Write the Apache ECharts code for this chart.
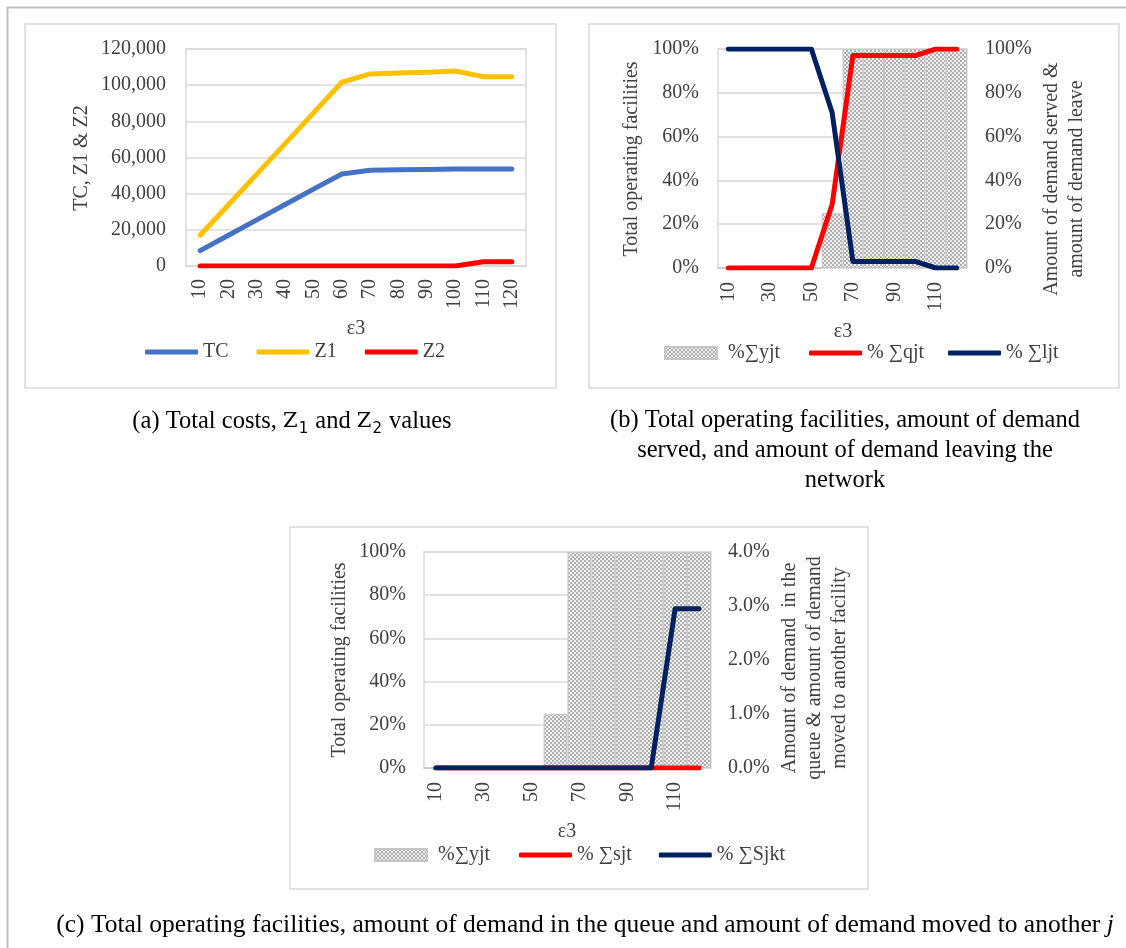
<!DOCTYPE html>
<html>
<head>
<meta charset="utf-8">
<title>ε3 sensitivity</title>
<script src="https://cdn.jsdelivr.net/npm/echarts@6.0.0/dist/echarts.min.js"></script>
<style>
  html, body { margin: 0; padding: 0; background: #ffffff; }
  #chart { width: 1126px; height: 948px; }
</style>
</head>
<body>
<div id="chart"></div>
<script>
// ε3 levels on the category axis
const eps = ['10', '20', '30', '40', '50', '60', '70', '80', '90', '100', '110', '120'];

// (a) total cost and objective values
const tc = [8500, 17000, 25500, 34000, 42500, 50900, 52900, 53200, 53400, 53600, 53700, 53700];
const z1 = [17000, 33900, 50800, 67700, 84700, 101600, 106200, 106700, 107200, 107800, 104700, 104700];
const z2 = [0, 0, 0, 0, 0, 0, 0, 0, 0, 0, 2400, 2400];

// (b) share of operating facilities, demand served and demand leaving
const yjt = [0, 0, 0, 0, 0, 0.25, 1, 1, 1, 1, 1, 1];
const qjt = [0, 0, 0, 0, 0, 0.29, 0.97, 0.97, 0.97, 0.97, 1, 1];
const ljt = [1, 1, 1, 1, 1, 0.71, 0.03, 0.03, 0.03, 0.03, 0, 0];

// (c) demand in the queue and demand moved to another facility
const sjt = [0, 0, 0, 0, 0, 0, 0, 0, 0, 0, 0, 0];
const sjkt = [0, 0, 0, 0, 0, 0, 0, 0, 0, 0, 0.0295, 0.0295];

const FONT = 'Liberation Serif';
const TXT = '#404040';
const GRIDC = '#d9d9d9';

// small checker tile used as the fill of the facility bars
function checkerTile() {
  const c = document.createElement('canvas');
  c.width = 4; c.height = 4;
  const g = c.getContext('2d');
  g.fillStyle = '#efefef';
  g.fillRect(0, 0, 4, 4);
  g.fillStyle = '#b0b0b0';
  g.fillRect(0, 0, 2, 2);
  g.fillRect(2, 2, 2, 2);
  return c;
}
const checker = { image: checkerTile(), repeat: 'repeat' };

const pct0 = v => Math.round(v * 100) + '%';
const pct1 = v => (v * 100).toFixed(1) + '%';

function catAxis(gridIndex, interval, margin) {
  return {
    type: 'category', gridIndex: gridIndex, data: eps, boundaryGap: true,
    axisLine: { lineStyle: { color: GRIDC, width: 1.5 } },
    axisTick: { show: false },
    axisLabel: { rotate: 90, interval: interval, margin: margin, fontFamily: FONT, fontSize: 20, color: TXT },
    splitLine: { show: false }
  };
}
function valAxis(gridIndex, pos, max, interval, fmt, margin, split) {
  return {
    type: 'value', gridIndex: gridIndex, position: pos, min: 0, max: max, interval: interval,
    axisLine: { show: false }, axisTick: { show: false },
    axisLabel: { formatter: fmt, margin: margin, fontFamily: FONT, fontSize: 20, color: TXT },
    splitLine: { show: split, lineStyle: { color: GRIDC, width: 1.5 } }
  };
}
function lineSeries(name, data, color, xi, yi) {
  return {
    type: 'line', name: name, data: data, xAxisIndex: xi, yAxisIndex: yi,
    symbol: 'none', showSymbol: false, color: color, silent: true,
    lineStyle: { width: 5, color: color, cap: 'round', join: 'round' }
  };
}
function barSeries(name, data, xi, yi) {
  return {
    type: 'bar', name: name, data: data, xAxisIndex: xi, yAxisIndex: yi,
    barCategoryGap: '0%', silent: true,
    itemStyle: { color: checker, borderColor: '#c6c6c6', borderWidth: 1 }
  };
}
// legend for line series: a thick rounded stroke, no marker
function lineLegend(left, top, names, gap) {
  return {
    left: left, top: top, orient: 'horizontal', itemWidth: 53, itemHeight: 5, itemGap: gap,
    icon: 'roundRect', data: names, selectedMode: false,
    textStyle: { fontFamily: FONT, fontSize: 20, color: TXT }
  };
}
// legend for the patterned bar series
function barLegend(left, top, names) {
  return {
    left: left, top: top, orient: 'horizontal', itemWidth: 52, itemHeight: 12,
    icon: 'rect', data: names, selectedMode: false,
    textStyle: { fontFamily: FONT, fontSize: 20, color: TXT, padding: [0, 0, 0, 6] }
  };
}
function vText(x, y, text, size) {
  return {
    type: 'text', x: x, y: y, rotation: Math.PI / 2, silent: true,
    style: {
      text: text, x: 0, y: 0, fontFamily: FONT, fontSize: size || 20, fill: TXT,
      textAlign: 'center', align: 'center', textVerticalAlign: 'middle', verticalAlign: 'middle',
      lineHeight: 25
    }
  };
}
function hText(x, y, text, size, rich, color) {
  const st = {
    text: text, x: 0, y: 0, fontFamily: FONT, fontSize: size, fill: color || TXT,
    textAlign: 'center', align: 'center', textVerticalAlign: 'middle', verticalAlign: 'middle',
    lineHeight: 30
  };
  if (rich) st.rich = rich;
  return { type: 'text', x: x, y: y, silent: true, style: st };
}
function box(x, y, w, h) {
  return {
    type: 'rect', silent: true, z: -1,
    shape: { x: x, y: y, width: w, height: h },
    style: { fill: 'none', stroke: GRIDC, lineWidth: 1.5 }
  };
}

const subRich = {
  z: { fontFamily: 'DejaVu Serif', fontSize: 21, fill: '#000' },
  s: { fontFamily: 'DejaVu Sans', fontSize: 15, fill: '#000', verticalAlign: 'bottom', padding: [12, 1, 0, 1] }
};

const chart = echarts.init(document.getElementById('chart'), null, { renderer: 'canvas' });
chart.setOption({
  animation: false,
  backgroundColor: '#ffffff',
  grid: [
    { left: 186, top: 49, width: 340, height: 217, show: true, borderColor: GRIDC, borderWidth: 1.5, backgroundColor: 'transparent' },
    { left: 718, top: 49, width: 249, height: 219, show: true, borderColor: GRIDC, borderWidth: 1.5, backgroundColor: 'transparent' },
    { left: 424, top: 552, width: 287, height: 216, show: true, borderColor: GRIDC, borderWidth: 1.5, backgroundColor: 'transparent' }
  ],
  xAxis: [catAxis(0, 0, 13), catAxis(1, 1, 14), catAxis(2, 1, 14)],
  yAxis: [
    valAxis(0, 'left', 120000, 20000, v => v.toLocaleString('en-US'), 20, true),
    valAxis(1, 'left', 1, 0.2, pct0, 19, true),
    valAxis(1, 'right', 1, 0.2, pct0, 18, false),
    valAxis(2, 'left', 1, 0.2, pct0, 18, true),
    valAxis(2, 'right', 0.04, 0.01, pct1, 17, false)
  ],
  legend: [
    lineLegend(140, 337, ['TC', 'Z1', 'Z2'], 28),
    barLegend(659, 338, ['%∑yjt']),
    lineLegend(804, 338, ['% ∑qjt', '% ∑ljt'], 24),
    barLegend(369, 840, ['%∑yjt']),
    lineLegend(514, 840, ['% ∑sjt', '% ∑Sjkt'], 27)
  ],
  series: [
    lineSeries('TC', tc, '#4472c4', 0, 0),
    lineSeries('Z1', z1, '#ffc000', 0, 0),
    lineSeries('Z2', z2, '#ff0000', 0, 0),
    barSeries('%∑yjt', yjt, 1, 1),
    lineSeries('% ∑qjt', qjt, '#ff0000', 1, 2),
    lineSeries('% ∑ljt', ljt, '#002060', 1, 2),
    barSeries('%∑yjt', yjt, 2, 3),
    lineSeries('% ∑sjt', sjt, '#ff0000', 2, 4),
    lineSeries('% ∑Sjkt', sjkt, '#002060', 2, 4)
  ],
  graphic: [
    // outer figure frame
    { type: 'polyline', silent: true, z: -2,
      shape: { points: [[7.5, 948], [7.5, 7.5], [1126, 7.5]] },
      style: { fill: 'none', stroke: '#bfbfbf', lineWidth: 2 } },
    box(25, 24, 531, 364),
    box(589, 24, 530, 364),
    box(290, 527, 578, 362),
    // axis titles
    vText(82, 158, 'TC, Z1 & Z2'),
    hText(356, 329, 'ε3', 20),
    vText(632, 159, 'Total operating facilities'),
    vText(1064, 179, 'Amount of demand served &\namount of demand leave'),
    hText(843, 332, 'ε3', 20),
    vText(340, 660, 'Total operating facilities'),
    vText(815, 668, 'Amount of demand  in the\nqueue & amount of demand\nmoved to another facility'),
    hText(567, 832, 'ε3', 20),
    // panel captions
    hText(292, 422, '(a) Total costs, {z|Z}{s|1} and {z|Z}{s|2} values', 24.5, subRich, '#000'),
    hText(845, 451, '(b) Total operating facilities, amount of demand\nserved, and amount of demand leaving the\nnetwork', 24.5, null, '#000'),
    hText(585, 925, '(c) Total operating facilities, amount of demand in the queue and amount of demand moved to another {i|j}', 25.5,
      { i: { fontFamily: FONT, fontSize: 25.5, fontStyle: 'italic', fill: '#000' } }, '#000')
  ]
});
</script>
</body>
</html>
